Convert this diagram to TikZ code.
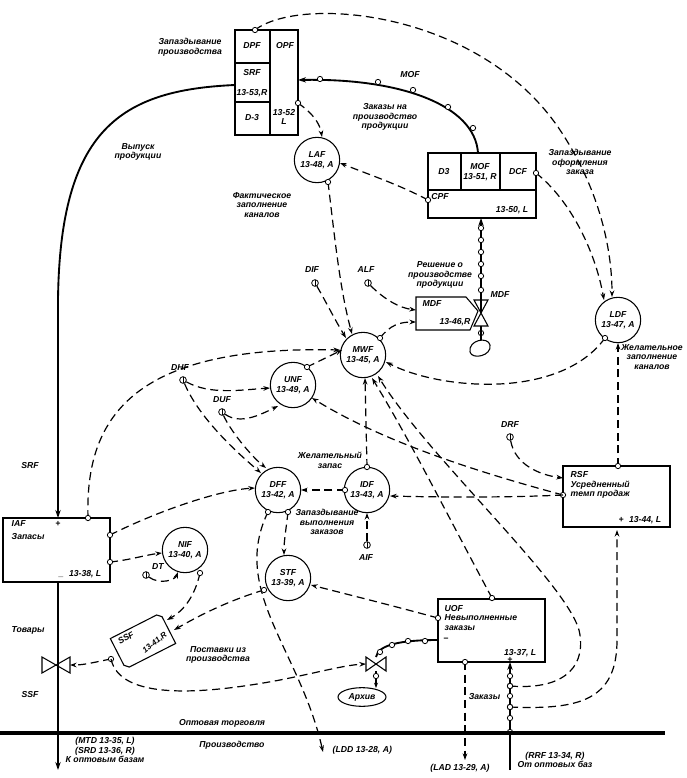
\documentclass[tikz,border=0pt]{standalone}
\usepackage{fontspec}
\setmainfont{Liberation Sans}
\usetikzlibrary{arrows.meta,calc,shapes.geometric}
\begin{document}
\begin{tikzpicture}[x=0.75pt,y=-0.75pt,
  every node/.style={font=\fontsize{6.5}{7.2}\selectfont\itshape\bfseries},
  aux/.style={circle,draw,line width=0.8pt,minimum size=34pt,inner sep=0pt,align=center},
  tap/.style={circle,draw,fill=white,line width=0.6pt,minimum size=4pt,inner sep=0pt},
  src/.style={circle,draw,line width=0.6pt,minimum size=5pt,inner sep=0pt,path picture={\draw (path picture bounding box.north)--(path picture bounding box.south);}},
  dl/.style={dash pattern=on 6pt off 3.5pt,line width=0.9pt,-{Stealth[length=5pt,width=3.5pt]}},
  flow/.style={line width=1.4pt,-{Stealth[length=6pt,width=4pt]}},
  lbl/.style={align=center}]
\useasboundingbox (0,0) rectangle (686,778);
% ===== boxes =====
\draw[line width=0.8pt] (235,30) rectangle (298,135);
\draw[line width=0.8pt] (270,30)--(270,135) (235,63)--(270,63) (235,102)--(270,102);
\node (dpf) at (252,46) {DPF};
\node at (285,46) {OPF};
\node (srf) at (252,73) {SRF};
\node at (252,93) {13-53,R};
\node at (252,118) {D-3};
\node[align=center] at (284,117) {13-52\\L};
\draw[line width=0.8pt] (428,153) rectangle (536,218);
\draw[line width=0.8pt] (428,190)--(536,190) (461,153)--(461,190) (500,153)--(500,190);
\node at (444,172) {D3};
\node[align=center] at (480,172) {MOF\\13-51, R};
\node at (518,172) {DCF};
\node at (440,197) {CPF};
\node at (512,210) {13-50, L};
% MDF pentagon
\draw[line width=0.8pt] (416,297)--(466,297)--(478,311)--(470,330)--(416,330)--cycle;
\node at (432,304) {MDF};
\node at (455,322) {13-46,R};
% IAF
\draw[line width=0.8pt] (3,518) rectangle (110,582);
\node[anchor=west] at (7,524) {IAF};
\node at (58,524) {+};
\node[anchor=west] at (7,537) {Запасы};
\node[anchor=east] at (106,574) {\_\hspace{4pt}13-38, L};
% RSF
\draw[line width=0.8pt] (563,466) rectangle (670,527);
\node[anchor=west,align=left] at (566,485) {RSF\\Усредненный\\темп продаж};
\node[anchor=east] at (666,520) {+\hspace{4pt}13-44, L};
% UOF
\draw[line width=0.8pt] (438,599) rectangle (545,662);
\node[anchor=west,align=left] at (440,618) {UOF\\Невыполненные\\заказы};
\node at (446,640) {−};
\node[anchor=east] at (541,653) {13-37, L};
\node at (510,660) {+};
% SSF rotated box
\begin{scope}[shift={(143,641)},rotate=27]
\draw[line width=0.8pt] (-28,-17)--(24,-17)--(28,-13)--(28,17)--(-24,17)--(-28,13)--cycle;
\end{scope}
\node[rotate=30,inner sep=0pt] at (126,638) {SSF};
\node[rotate=38,inner sep=0pt,font=\fontsize{6}{7}\selectfont\itshape\bfseries] at (155,643) {13-41,R};
% ===== aux circles =====
\node[aux] (laf) at (317,160) {LAF\\13-48, A};
\node[aux] (ldf) at (618,320) {LDF\\13-47, A};
\node[aux] (mwf) at (363,355) {MWF\\13-45, A};
\node[aux] (unf) at (293,385) {UNF\\13-49, A};
\node[aux] (dff) at (278,490) {DFF\\13-42, A};
\node[aux] (idf) at (367,490) {IDF\\13-43, A};
\node[aux] (nif) at (185,550) {NIF\\13-40, A};
\node[aux] (stf) at (288,578) {STF\\13-39, A};
% sources
\node[src] (dif) at (315,283) {}; \node at (312,270) {DIF};
\node[src] (alf) at (368,283) {}; \node at (366,270) {ALF};
\node[src] (dhf) at (183,380) {}; \node at (180,368) {DHF};
\node[src] (duf) at (222,412) {}; \node at (222,400) {DUF};
\node[src] (dt) at (146,575) {}; \node at (158,567) {DT};
\node[src] (aif) at (367,545) {}; \node at (366,558) {AIF};
\node[src] (drf) at (510,437) {}; \node at (510,425) {DRF};
% valves
\draw[line width=0.8pt] (42,657)--(70,673)--(70,657)--(42,673)--cycle;
\draw[line width=0.8pt] (366,657)--(386,671)--(386,657)--(366,671)--cycle;
\draw[line width=0.8pt] (474,300)--(488,326)--(474,326)--(488,300)--cycle;
% clouds
\draw[line width=0.8pt] (470,352) .. controls (468,340) and (488,336) .. (490,345) .. controls (492,356) and (472,360) .. (470,352);
\node[draw,line width=0.8pt,ellipse,minimum width=36pt,minimum height=14pt,inner sep=1pt] (arch) at (362,697) {Архив};
% ===== solid flows =====
\draw[flow] (235,85) .. controls (120,90) and (60,130) .. (58,300) -- (58,518);
\draw[flow] (58,582) -- (58,770);
\node at (28,630) {Товары};
\node at (30,695) {SSF};
\node at (30,466) {SRF};
\node[lbl] at (138,152) {Выпуск\\продукции};
\draw[flow] (478,153) .. controls (475,105) and (400,78) .. (298,80);
\foreach \p in {(320,79),(378,82),(413,90),(448,107),(473,128)} \node[tap] at \p {};
\node at (410,75) {MOF};
\node[lbl] at (385,117) {Заказы на\\производство\\продукции};
\draw[line width=1.4pt] (481,313)--(481,300);
\draw[flow] (481,300)--(481,218);
\foreach \y in {228,240,252,264,276,290} \node[tap] at (481,\y) {};
\node[tap] at (481,333) {};
\draw[line width=1.4pt] (481,326)--(481,340);
\node at (500,295) {MDF};
\node[lbl] at (440,275) {Решение о\\производстве\\продукции};
\draw[line width=1.4pt] (438,640) .. controls (400,640) and (378,645) .. (376,657);
\foreach \p in {(425,641),(408,641),(392,645),(380,652)} \node[tap] at \p {};
\draw[line width=1.0pt,-{Stealth[length=4pt]}] (376,671)--(376,688);
\node[tap] at (376,676) {};
\draw[flow] (510,770)--(510,662);
\foreach \y in {676,686,696,707,718,732} \node[tap] at (510,\y) {};
\node[anchor=east] at (505,697) {Заказы};
\draw[line width=2.4pt] (0,733)--(665,733);
\node at (222,723) {Оптовая торговля};
\node at (232,745) {Производство};
\node[lbl] at (105,750) {(MTD 13-35, L)\\(SRD 13-36, R)\\К оптовым базам};
\node[anchor=west] at (328,750) {(LDD 13-28, A)};
\node at (460,768) {(LAD 13-29, A)};
\node[lbl] at (555,760) {(RRF 13-34, R)\\От оптовых баз};
% ===== dashed info links =====
\draw[dl] (255,30) .. controls (300,-5) and (480,10) .. (560,130) .. controls (600,190) and (612,250) .. (612,297);
\node[tap] at (255,30) {};
\node[lbl] at (190,47) {Запаздывание\\производства};
\draw[dl] (536,173) .. controls (570,200) and (595,250) .. (604,300);
\node[tap] at (536,173) {};
\node[lbl] at (580,162) {Запаздывание\\оформления\\заказа};
\draw[dl] (298,103) .. controls (315,115) and (320,125) .. (322,137);
\node[tap] at (298,103) {};
\draw[dl] (428,200) .. controls (400,185) and (370,175) .. (340,163);
\node[tap] at (428,200) {};
\draw[dl] (328,182) .. controls (335,240) and (340,290) .. (352,334);
\node[tap] at (328,182) {};
\node[lbl] at (262,205) {Фактическое\\заполнение\\каналов};
\draw[dl] (dif) .. controls (325,300) and (335,320) .. (346,338);
\draw[dl] (alf) .. controls (385,300) and (400,308) .. (416,310);
\draw[dl] (380,338) .. controls (390,325) and (400,322) .. (416,322);
\node[tap] at (380,338) {};
\draw[dl] (605,338) .. controls (560,400) and (440,390) .. (386,362);
\node[tap] at (605,338) {};
\draw[dl] (618,466) -- (618,343);
\node[tap] at (618,466) {};
\node[lbl] at (652,357) {Желательное\\заполнение\\каналов};
\draw[dl] (88,518) .. controls (85,420) and (130,345) .. (340,350);
\node[tap] at (88,518) {};
\draw[dl] (dhf) .. controls (210,395) and (240,390) .. (270,388);
\draw[dl] (dhf) .. controls (200,420) and (240,455) .. (261,473);
\draw[dl] (duf) .. controls (240,425) and (260,415) .. (278,406);
\draw[dl] (duf) .. controls (230,430) and (250,455) .. (266,468);
\draw[dl] (307,367) -- (342,350);
\node[tap] at (307,367) {};
\draw[dl] (563,495) .. controls (470,470) and (380,440) .. (312,398);
\node[tap] at (563,495) {};
\draw[dl] (563,495) .. controls (500,498) and (430,497) .. (390,496);
\draw[dl] (367,467) -- (365,378);
\node[tap] at (367,467) {};
\node[lbl] at (330,460) {Желательный\\запас};
\draw[dl] (aif) -- (367,513);
\draw[dl] (345,490) -- (301,490);
\node[tap] at (345,490) {};
\draw[dl] (110,535) .. controls (160,510) and (220,490) .. (255,488);
\node[tap] at (110,535) {};
\draw[dl] (110,562) .. controls (130,560) and (145,555) .. (162,553);
\node[tap] at (110,562) {};
\draw[dl] (dt) .. controls (160,585) and (175,580) .. (178,572);
\draw[dl] (288,512) .. controls (286,530) and (284,540) .. (284,555);
\node[tap] at (288,512) {};
\node[lbl] at (327,522) {Запаздывание\\выполнения\\заказов};
\draw[dl] (268,512) .. controls (230,590) and (300,650) .. (323,752);
\node[tap] at (268,512) {};
\draw[dl] (200,573) .. controls (195,595) and (185,610) .. (167,620);
\node[tap] at (200,573) {};
\draw[dl] (264,590) .. controls (230,600) and (200,615) .. (174,630);
\node[tap] at (264,590) {};
\node[lbl] at (218,655) {Поставки из\\производства};
\draw[dl] (111,659) .. controls (95,662) and (85,665) .. (70,665);
\node[tap] at (111,659) {};
\draw[dl] (111,659) .. controls (120,700) and (200,695) .. (280,680) .. controls (320,672) and (345,665) .. (366,664);
\draw[dl] (438,618) .. controls (390,605) and (350,595) .. (311,585);
\node[tap] at (438,618) {};
\draw[dl] (492,598) .. controls (450,520) and (410,440) .. (372,378);
\node[tap] at (492,598) {};
\draw[dl] (510,686) .. controls (560,690) and (585,670) .. (580,635) .. controls (575,590) and (430,460) .. (378,376);
\draw[dl] (510,707) .. controls (580,710) and (617,700) .. (617,640) -- (617,530);
\node[tap] at (510,686) {};
\node[tap] at (510,707) {};
\draw[dl] (465,662) -- (465,760);
\node[tap] at (465,662) {};
\draw[dl] (drf) .. controls (515,465) and (540,475) .. (563,478);
\end{tikzpicture}
\end{document}
